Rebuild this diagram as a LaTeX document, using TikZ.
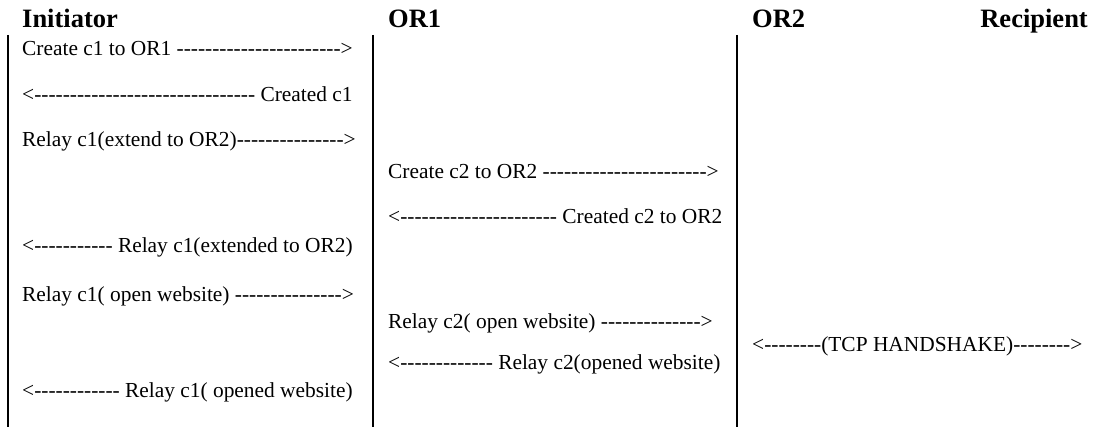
\documentclass[tikz,border=0pt]{standalone}
\usepackage{fontspec}
\setmainfont{Liberation Serif}[Ligatures=TeXOff]
\begin{document}
\begin{tikzpicture}[x=1pt,y=-1pt,
  msg/.style={anchor=base west, inner sep=0pt, font=\fontsize{21.4}{24}\selectfont},
  head/.style={anchor=base west, inner sep=0pt, font=\fontsize{26.5}{30}\selectfont\bfseries},
  life/.style={line width=2pt}]
\useasboundingbox (0,0) rectangle (1093,427);

% column headings
\node[head] (hInit) at (22,28) {Initiator};
\node[head] (hOR1) at (388,28) {OR1};
\node[head] (hOR2) at (752,28) {OR2};
\node[head, anchor=base east] (hRec) at (1088,28) {Recipient};

% lifelines
\coordinate (l1top) at (8,35);   \coordinate (l1bot) at (8,427);
\coordinate (l2top) at (373,35); \coordinate (l2bot) at (373,427);
\coordinate (l3top) at (737,35); \coordinate (l3bot) at (737,427);
\draw[life] (l1top) -- (l1bot);
\draw[life] (l2top) -- (l2bot);
\draw[life] (l3top) -- (l3bot);

% initiator column
\node[msg] (m1) at (22,56)  {Create c1 to OR1 ----------------------->};
\node[msg] (m2) at (22,102) {<------------------------------- Created c1};
\node[msg] (m3) at (22,147) {Relay c1(extend to OR2)--------------->};
\node[msg] (m6) at (22,253) {<----------- Relay c1(extended to OR2)};
\node[msg] (m7) at (22,302) {Relay c1( open website) --------------->};
\node[msg] (m11) at (22,398) {<------------ Relay c1( opened website)};

% OR1 column
\node[msg] (m4) at (388,179) {Create c2 to OR2 ----------------------->};
\node[msg] (m5) at (388,224) {<---------------------- Created c2 to OR2};
\node[msg] (m8) at (388,329) {Relay c2( open website) -------------->};
\node[msg] (m10) at (388,370) {<------------- Relay c2(opened website)};

% OR2 column
\node[msg] (m9) at (752,352) {<--------(TCP HANDSHAKE)-------->};
\end{tikzpicture}
\end{document}
